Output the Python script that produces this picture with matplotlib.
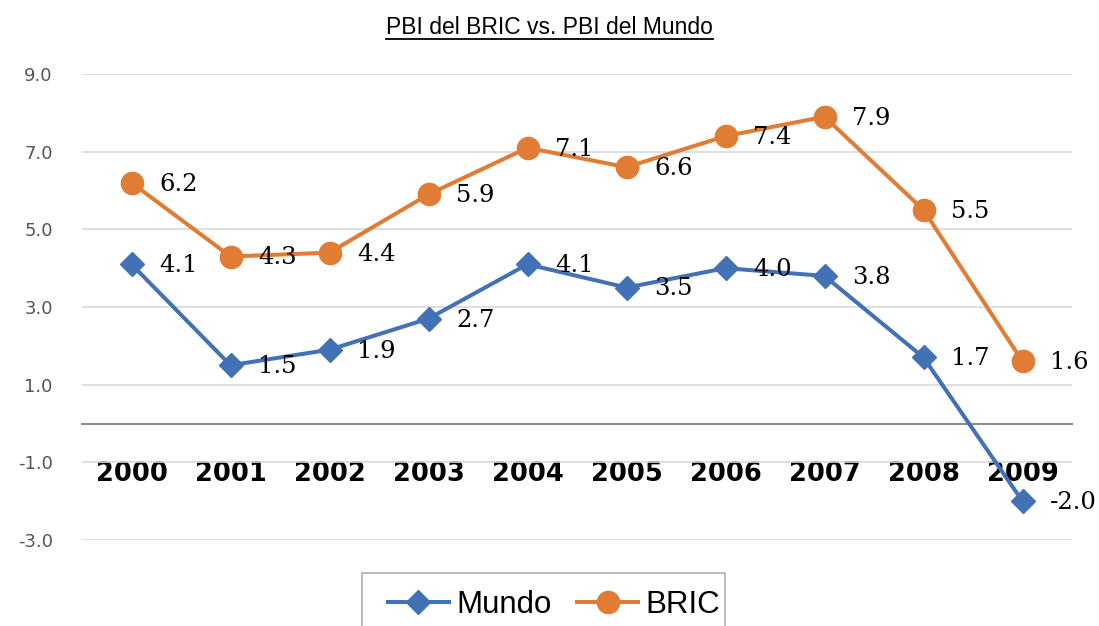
import matplotlib
matplotlib.use("Agg")
import matplotlib.pyplot as plt
from matplotlib.lines import Line2D
from matplotlib.patches import Rectangle

# data
years = ["2000", "2001", "2002", "2003", "2004",
         "2005", "2006", "2007", "2008", "2009"]
mundo = [4.1, 1.5, 1.9, 2.7, 4.1, 3.5, 4.0, 3.8, 1.7, -2.0]
bric = [6.2, 4.3, 4.4, 5.9, 7.1, 6.6, 7.4, 7.9, 5.5, 1.6]
y_ticks = [-3.0, -1.0, 1.0, 3.0, 5.0, 7.0, 9.0]

BLUE = "#4371b5"
ORANGE = "#e07c34"

fig = plt.figure(figsize=(10.99, 6.26), dpi=100)
ax = fig.add_axes([82 / 1099, 1 - 540 / 626, 990 / 1099, 466 / 626])

x = list(range(len(years)))
ax.plot(x, mundo, color=BLUE, lw=2.9, marker="D", ms=12,
        markeredgecolor=BLUE, zorder=3)
ax.plot(x, bric, color=ORANGE, lw=2.9, marker="o", ms=16,
        markeredgecolor=ORANGE, zorder=3)

# data labels to the right of each point
for series in (mundo, bric):
    for xi, v in zip(x, series):
        ax.annotate(f"{v:.1f}", (xi, v), xytext=(20, -1),
                    textcoords="offset points", ha="left", va="center",
                    fontsize=17.5, family="DejaVu Serif", color="black",
                    zorder=4)

ax.set_xlim(-0.5, len(years) - 0.5)
ax.set_ylim(-3, 9)
ax.set_yticks(y_ticks)
ax.set_yticklabels([f"{t:.1f}" for t in y_ticks])
ax.set_xticks(x)
ax.set_xticklabels(years)

ax.grid(axis="y", color="#d9d9d9", lw=1.2)
ax.set_axisbelow(True)
for side in ["top", "right", "left"]:
    ax.spines[side].set_visible(False)
ax.spines["bottom"].set_position(("data", 0))
ax.spines["bottom"].set_color("#8a8a8a")
ax.spines["bottom"].set_linewidth(1.4)

ax.tick_params(axis="y", length=0, pad=21, labelsize=13, labelcolor="#555555")
ax.tick_params(axis="x", length=0, pad=27, labelsize=18.5, labelcolor="black")
for lab in ax.get_xticklabels():
    lab.set_fontweight("bold")

# title with underline
title = fig.text(0.5, 1 - 27 / 626, "PBI del BRIC vs. PBI del Mundo",
                 ha="center", va="center", fontsize=16.5,
                 family="Liberation Sans", color="black")
fig.canvas.draw()
bb = title.get_window_extent().transformed(fig.transFigure.inverted())
fig.add_artist(Line2D([bb.x0, bb.x1], [1 - 39 / 626] * 2,
                      transform=fig.transFigure, color="black", lw=1.3))

# legend box, cut off by the bottom edge as in the reference
fig.add_artist(Rectangle((362 / 1099, -0.05), 363 / 1099, 0.05 + 53 / 626,
                         transform=fig.transFigure, fill=False,
                         edgecolor="#b0b0b0", lw=1.2))
handles = [
    Line2D([], [], color=BLUE, lw=2.9, marker="D", ms=12, markeredgecolor=BLUE),
    Line2D([], [], color=ORANGE, lw=2.9, marker="o", ms=16, markeredgecolor=ORANGE),
]
fig.legend(handles, ["Mundo", "BRIC"], loc="center left",
           bbox_to_anchor=(388 / 1099, 1 - 605 / 626), ncol=2, frameon=False,
           prop={"family": "Liberation Sans", "size": 22.5},
           handlelength=1.95, handletextpad=0.25, columnspacing=0.8,
           borderpad=0, borderaxespad=0)

fig.savefig("out.png", dpi=100)
